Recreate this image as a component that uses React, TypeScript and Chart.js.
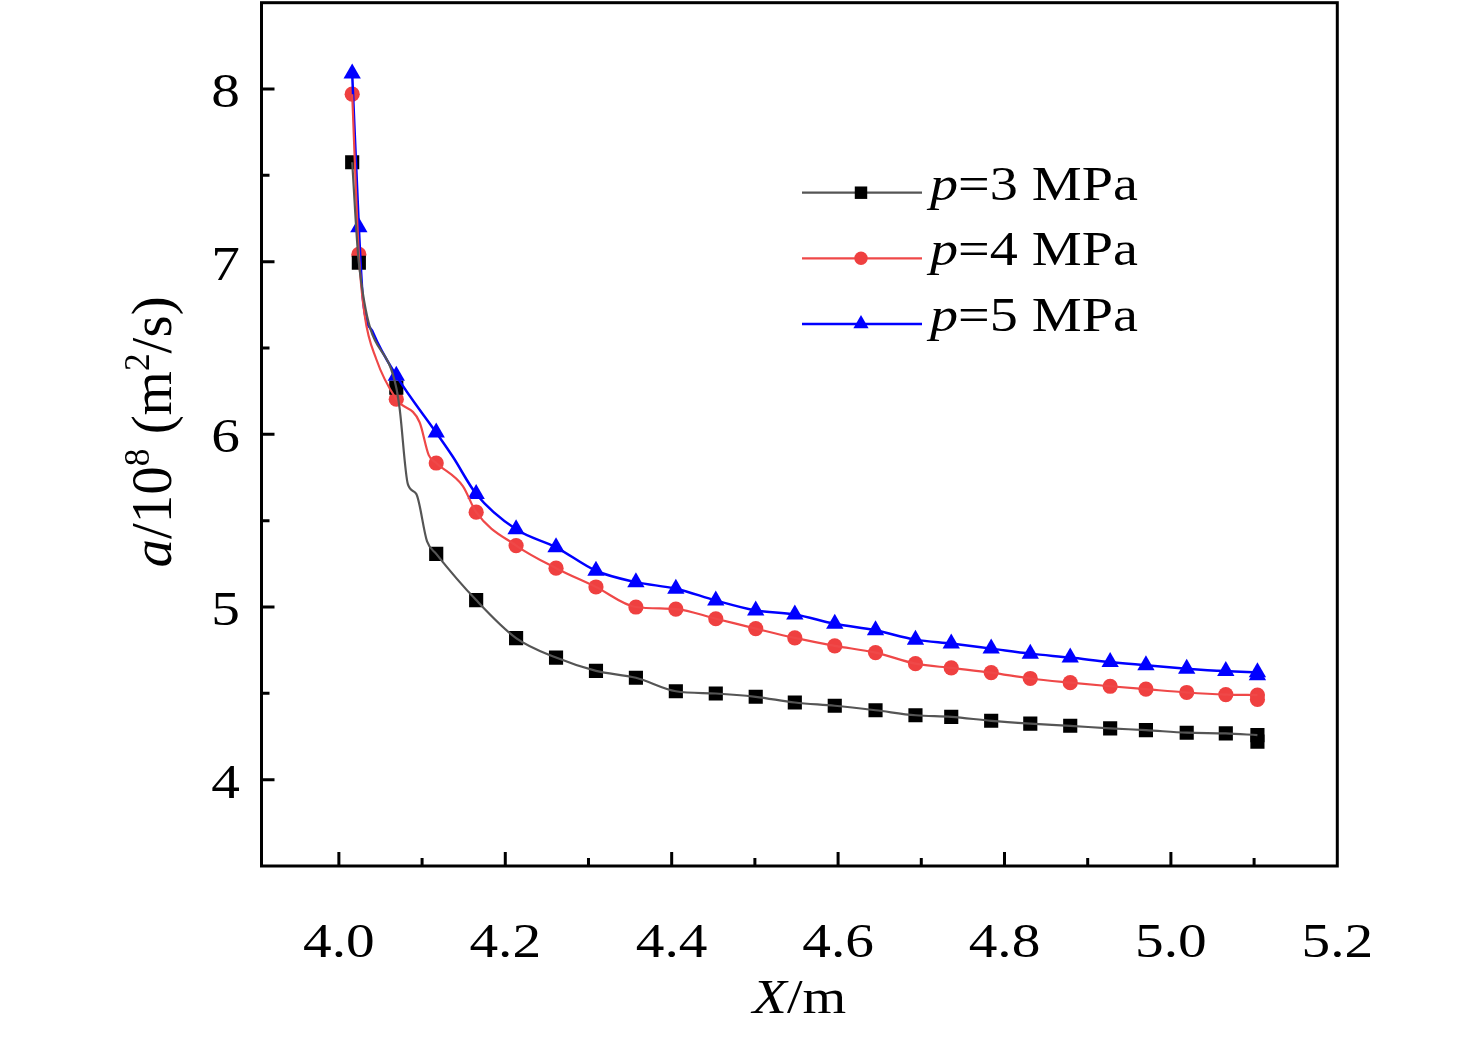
import React, { useEffect, useRef } from "react";
import { Chart, registerables } from "chart.js";

Chart.register(...registerables);

// x of the markers (same for the three pressures)
const markX = [
  4.016, 4.024, 4.069, 4.117, 4.165, 4.213, 4.261, 4.309, 4.357, 4.405, 4.453,
  4.501, 4.548, 4.596, 4.645, 4.693, 4.736, 4.784, 4.831, 4.879, 4.927, 4.97,
  5.019, 5.066, 5.104,
];
const p3Values = [
  7.576, 6.994, 6.27, 5.308, 5.04, 4.82, 4.707, 4.63, 4.59, 4.512, 4.499, 4.48,
  4.447, 4.428, 4.402, 4.373, 4.364, 4.341, 4.325, 4.312, 4.297, 4.287, 4.272,
  4.268, 4.258,
];
const p4Values = [
  7.97, 7.042, 6.204, 5.834, 5.549, 5.356, 5.225, 5.116, 5.0, 4.988, 4.932,
  4.875, 4.821, 4.775, 4.736, 4.672, 4.647, 4.62, 4.586, 4.562, 4.541, 4.524,
  4.505, 4.493, 4.49,
];
const p5Values = [
  8.09, 7.2, 6.34, 6.01, 5.655, 5.45, 5.346, 5.21, 5.144, 5.106, 5.038, 4.98,
  4.957, 4.903, 4.865, 4.811, 4.788, 4.759, 4.73, 4.707, 4.681, 4.662, 4.643,
  4.629, 4.622,
];
// a second marker sits at the last x
const lastX = 5.104;
const p3Last = 4.22;
const p4Last = 4.465;
const p5Last = 4.605;

// curve readings between markers
const p3CurveX = [4.073, 4.083, 4.093, 4.106];
const p3CurveY = [6.15, 5.71, 5.655, 5.38];
const p4CurveX = [4.031, 4.045, 4.097, 4.108, 4.149];
const p4CurveY = [6.69, 6.435, 6.07, 5.88, 5.7];
const p5CurveX = [4.029, 4.041, 4.137];
const p5CurveY = [6.78, 6.59, 5.87];

const xTicks = [4.0, 4.2, 4.4, 4.6, 4.8, 5.0, 5.2];
const xMinor = [4.1, 4.3, 4.5, 4.7, 4.9, 5.1];
const yTicks = [4, 5, 6, 7, 8];
const yMinor = [4.5, 5.5, 6.5, 7.5];

const pressures = ["3", "4", "5"];

const FONT = '"Liberation Serif", "Times New Roman", serif';
const SX = 1.17; // the lettering in the figure is drawn a bit wide
const lineColors = ["#555555", "#ef4848", "#0000ff"];
const markColors = ["#000000", "#ef4040", "#0000ff"];
const markStyles = ["rect", "circle", "triangle"];
const markRadius = [10, 7.6, 10];

type Part = { t: string; it?: boolean; sup?: boolean };

function partFont(p: Part, size: number) {
  const s = p.sup ? size * 0.62 : size;
  return `${p.it ? "italic " : ""}${s}px ${FONT}`;
}

function drawRich(
  ctx: CanvasRenderingContext2D,
  parts: Part[],
  x: number,
  y: number,
  size: number,
  align: "left" | "center" | "right",
  sx = 1
) {
  let total = 0;
  const widths = parts.map((p) => {
    ctx.font = partFont(p, size);
    const w = ctx.measureText(p.t).width;
    total += w;
    return w;
  });
  const start = align === "center" ? x - (total * sx) / 2 : align === "right" ? x - total * sx : x;
  ctx.save();
  ctx.translate(start, y);
  ctx.scale(sx, 1);
  ctx.textAlign = "left";
  ctx.textBaseline = "alphabetic";
  let cx = 0;
  parts.forEach((p, i) => {
    ctx.font = partFont(p, size);
    ctx.fillText(p.t, cx, p.sup ? -size * 0.38 : 0);
    cx += widths[i];
  });
  ctx.restore();
}

function drawMark(ctx: CanvasRenderingContext2D, style: string, x: number, y: number, r: number) {
  ctx.beginPath();
  if (style === "rect") {
    const h = r * Math.SQRT1_2;
    ctx.rect(x - h, y - h, 2 * h, 2 * h);
  } else if (style === "circle") {
    ctx.arc(x, y, r, 0, Math.PI * 2);
  } else {
    for (let k = 0; k < 3; k++) {
      const a = -Math.PI / 2 + (k * 2 * Math.PI) / 3;
      const px = x + r * Math.cos(a);
      const py = y + r * Math.sin(a);
      if (k === 0) ctx.moveTo(px, py);
      else ctx.lineTo(px, py);
    }
    ctx.closePath();
  }
  ctx.fill();
}

const framePlugin = {
  id: "frame",
  afterDraw(chart: any) {
    const { ctx, chartArea, scales } = chart;
    const { left, right, top, bottom } = chartArea;
    const x = scales.x;
    const y = scales.y;
    ctx.save();
    ctx.strokeStyle = "#000";
    ctx.lineWidth = 3;
    ctx.strokeRect(left, top, right - left, bottom - top);

    ctx.beginPath();
    xTicks.forEach((v) => {
      const px = x.getPixelForValue(v);
      if (px < right - 3) {
        ctx.moveTo(px, bottom);
        ctx.lineTo(px, bottom - 14);
      }
    });
    xMinor.forEach((v) => {
      const px = x.getPixelForValue(v);
      ctx.moveTo(px, bottom);
      ctx.lineTo(px, bottom - 8);
    });
    yTicks.forEach((v) => {
      const py = y.getPixelForValue(v);
      ctx.moveTo(left, py);
      ctx.lineTo(left + 13, py);
    });
    yMinor.forEach((v) => {
      const py = y.getPixelForValue(v);
      ctx.moveTo(left, py);
      ctx.lineTo(left + 8, py);
    });
    ctx.stroke();

    // tick labels
    ctx.fillStyle = "#000";
    xTicks.forEach((v) => {
      drawRich(ctx, [{ t: v.toFixed(1) }], x.getPixelForValue(v), 957, 49, "center", SX);
    });
    yTicks.forEach((v) => {
      drawRich(ctx, [{ t: String(v) }], 240, y.getPixelForValue(v) + 18, 49, "right", SX);
    });

    // legend
    pressures.forEach((p, i) => {
      const ly = 192.7 + i * 65.6;
      ctx.strokeStyle = lineColors[i];
      ctx.lineWidth = i === 2 ? 2.5 : 2.2;
      ctx.beginPath();
      ctx.moveTo(802, ly);
      ctx.lineTo(922, ly);
      ctx.stroke();
      ctx.fillStyle = markColors[i];
      drawMark(ctx, markStyles[i], 861, ly, markRadius[i] * 0.88);
      ctx.fillStyle = "#000";
      drawRich(ctx, [{ t: "p", it: true }, { t: `=${p} MPa` }], 930, ly + 7, 48, "left", SX);
    });

    // axis titles
    ctx.fillStyle = "#000";
    drawRich(ctx, [{ t: "X", it: true }, { t: "/m" }], (left + right) / 2, 1013, 48, "center", SX);
    ctx.save();
    ctx.translate(171, 432);
    ctx.rotate(-Math.PI / 2);
    drawRich(
      ctx,
      [
        { t: "a", it: true },
        { t: "/10" },
        { t: "8", sup: true },
        { t: " (m" },
        { t: "2", sup: true },
        { t: "/s)" },
      ],
      0,
      0,
      57,
      "center"
    );
    ctx.restore();
    ctx.restore();
  },
};

function curvePoints(vals: number[], cx: number[], cy: number[]) {
  const pts = markX.map((x, i) => ({ x, y: vals[i] }));
  cx.forEach((x, i) => pts.push({ x, y: cy[i] }));
  return pts.sort((a, b) => a.x - b.x);
}

function markPoints(vals: number[], last: number) {
  const pts = markX.map((x, i) => ({ x, y: vals[i] }));
  pts.push({ x: lastX, y: last });
  return pts;
}

const App: React.FC = () => {
  const canvasRef = useRef<HTMLCanvasElement | null>(null);

  useEffect(() => {
    document.body.style.margin = "0";
    if (!canvasRef.current) return;
    const ctx = canvasRef.current.getContext("2d");
    if (!ctx) return;

    const series = [
      { vals: p3Values, last: p3Last, cx: p3CurveX, cy: p3CurveY },
      { vals: p4Values, last: p4Last, cx: p4CurveX, cy: p4CurveY },
      { vals: p5Values, last: p5Last, cx: p5CurveX, cy: p5CurveY },
    ];
    const datasets: any[] = [];
    series.forEach((s, i) => {
      datasets.push({
        label: `p=${pressures[i]} MPa line`,
        data: curvePoints(s.vals, s.cx, s.cy),
        showLine: true,
        borderColor: lineColors[i],
        borderWidth: i === 2 ? 2.5 : 2.2,
        pointRadius: 0,
        cubicInterpolationMode: "monotone",
      });
    });
    series.forEach((s, i) => {
      datasets.push({
        label: `p=${pressures[i]} MPa`,
        data: markPoints(s.vals, s.last),
        showLine: false,
        pointStyle: markStyles[i],
        pointRadius: markRadius[i],
        pointBackgroundColor: markColors[i],
        pointBorderWidth: 0,
        borderWidth: 0,
      });
    });

    const fixBox = (s: any) => {
      s.paddingTop = 0;
      s.paddingBottom = 0;
      s.paddingLeft = 0;
      s.paddingRight = 0;
    };

    const chart = new Chart(ctx, {
      type: "scatter",
      data: { datasets },
      options: {
        animation: false,
        responsive: true,
        maintainAspectRatio: false,
        layout: {
          autoPadding: false,
          padding: { top: 2.7, right: 138.7, bottom: 0, left: 0 },
        },
        plugins: {
          legend: { display: false },
          tooltip: { enabled: false },
        },
        scales: {
          x: {
            type: "linear",
            min: 3.907,
            max: 5.2,
            afterBuildTicks: (s: any) => {
              s.ticks = xTicks.map((v) => ({ value: v }));
            },
            afterFit: (s: any) => {
              s.height = 171;
              fixBox(s);
            },
            grid: { display: false, drawTicks: false },
            border: { display: false },
            ticks: { display: false },
          },
          y: {
            type: "linear",
            min: 3.5,
            max: 8.5,
            afterBuildTicks: (s: any) => {
              s.ticks = yTicks.map((v) => ({ value: v }));
            },
            afterFit: (s: any) => {
              s.width = 261.5;
              fixBox(s);
            },
            grid: { display: false, drawTicks: false },
            border: { display: false },
            ticks: { display: false },
          },
        },
      },
      plugins: [framePlugin],
    });

    return () => {
      chart.destroy();
    };
  }, []);

  return (
    <div style={{ position: "relative", width: 1476, height: 1037, background: "#fff" }}>
      <canvas ref={canvasRef}></canvas>
    </div>
  );
};

export default App;
